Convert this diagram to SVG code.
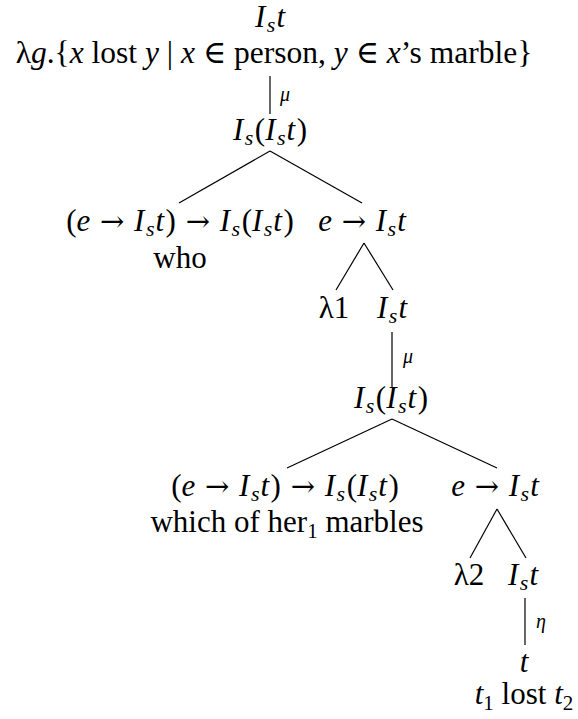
<svg xmlns="http://www.w3.org/2000/svg" width="578" height="719" viewBox="0 0 578 719">
<style>
.t{font-family:"Liberation Serif","Times New Roman",Times,"DejaVu Serif",serif;font-size:31px;fill:#000;text-anchor:middle}
.big{font-size:31.5px}
.i{font-style:italic}
.s{font-size:22px;font-style:italic}
.n{font-size:21px}
.a{font-family:"DejaVu Serif",serif;font-size:29px}
.lab{font-family:"Liberation Serif","Times New Roman",serif;font-size:20px;font-style:italic;fill:#000}
.e{stroke:#000;stroke-width:1.2;fill:none}
</style>
<rect width="578" height="719" fill="#fff"/>
<g id="connectors">
<line class="e" x1="270" y1="76" x2="270" y2="114"/>
<line class="e" x1="270" y1="151" x2="179" y2="203"/>
<line class="e" x1="270" y1="151" x2="362" y2="203"/>
<line class="e" x1="364" y1="243" x2="336" y2="290"/>
<line class="e" x1="364" y1="243" x2="393" y2="290"/>
<line class="e" x1="392" y1="332" x2="392" y2="388"/>
<line class="e" x1="392" y1="419" x2="287" y2="468"/>
<line class="e" x1="392" y1="419" x2="497" y2="468"/>
<line class="e" x1="497" y1="509" x2="470" y2="558"/>
<line class="e" x1="497" y1="509" x2="526" y2="558"/>
<line class="e" x1="525" y1="598" x2="525" y2="645"/>
<text class="lab" x="280" y="101">μ</text>
<text class="lab" x="403" y="363">μ</text>
<text class="lab" x="536" y="628">η</text>
</g>
<g id="root">
<text class="t" x="270" y="27"><tspan class="i">I</tspan><tspan class="s" dx="1.5" dy="5">s</tspan><tspan class="i" dx="1" dy="-5">t</tspan></text>
<text class="t big" x="274" y="63">λ<tspan class="i">g</tspan>.{<tspan class="i">x</tspan> lost <tspan class="i">y</tspan> | <tspan class="i">x</tspan> ∈ person, <tspan class="i">y</tspan> ∈ <tspan class="i">x</tspan>’s marble}</text>
</g>
<g id="n1">
<text class="t" x="270" y="140"><tspan class="i">I</tspan><tspan class="s" dx="1.5" dy="5">s</tspan><tspan dx="1.5" dy="-5">(</tspan><tspan class="i">I</tspan><tspan class="s" dx="1.5" dy="5">s</tspan><tspan class="i" dx="1" dy="-5">t</tspan><tspan dx="1.5">)</tspan></text>
</g>
<g id="who">
<text class="t" x="180" y="231">(<tspan class="i">e</tspan> <tspan class="a" dx="2">→</tspan> <tspan class="i" dx="2">I</tspan><tspan class="s" dx="1.5" dy="5">s</tspan><tspan class="i" dx="1" dy="-5">t</tspan><tspan dx="1.5">)</tspan> <tspan class="a" dx="2">→</tspan> <tspan class="i" dx="2">I</tspan><tspan class="s" dx="1.5" dy="5">s</tspan><tspan dx="1.5" dy="-5">(</tspan><tspan class="i">I</tspan><tspan class="s" dx="1.5" dy="5">s</tspan><tspan class="i" dx="1" dy="-5">t</tspan><tspan dx="1.5">)</tspan></text>
<text class="t" x="180" y="268">who</text>
</g>
<g id="n2">
<text class="t" x="362" y="231"><tspan class="i">e</tspan> <tspan class="a" dx="2">→</tspan> <tspan class="i" dx="2">I</tspan><tspan class="s" dx="1.5" dy="5">s</tspan><tspan class="i" dx="1" dy="-5">t</tspan></text>
</g>
<g id="lambda1">
<text class="t" x="334" y="318">λ1</text>
</g>
<g id="n3">
<text class="t" x="392" y="318"><tspan class="i">I</tspan><tspan class="s" dx="1.5" dy="5">s</tspan><tspan class="i" dx="1" dy="-5">t</tspan></text>
</g>
<g id="n4">
<text class="t" x="391" y="408"><tspan class="i">I</tspan><tspan class="s" dx="1.5" dy="5">s</tspan><tspan dx="1.5" dy="-5">(</tspan><tspan class="i">I</tspan><tspan class="s" dx="1.5" dy="5">s</tspan><tspan class="i" dx="1" dy="-5">t</tspan><tspan dx="1.5">)</tspan></text>
</g>
<g id="which">
<text class="t" x="285" y="496">(<tspan class="i">e</tspan> <tspan class="a" dx="2">→</tspan> <tspan class="i" dx="2">I</tspan><tspan class="s" dx="1.5" dy="5">s</tspan><tspan class="i" dx="1" dy="-5">t</tspan><tspan dx="1.5">)</tspan> <tspan class="a" dx="2">→</tspan> <tspan class="i" dx="2">I</tspan><tspan class="s" dx="1.5" dy="5">s</tspan><tspan dx="1.5" dy="-5">(</tspan><tspan class="i">I</tspan><tspan class="s" dx="1.5" dy="5">s</tspan><tspan class="i" dx="1" dy="-5">t</tspan><tspan dx="1.5">)</tspan></text>
<text class="t" x="287" y="532">which of her<tspan class="n" dy="6">1</tspan><tspan dy="-6"> marbles</tspan></text>
</g>
<g id="n5">
<text class="t" x="495" y="496"><tspan class="i">e</tspan> <tspan class="a" dx="2">→</tspan> <tspan class="i" dx="2">I</tspan><tspan class="s" dx="1.5" dy="5">s</tspan><tspan class="i" dx="1" dy="-5">t</tspan></text>
</g>
<g id="lambda2">
<text class="t" x="469" y="585">λ2</text>
</g>
<g id="n6">
<text class="t" x="523" y="585"><tspan class="i">I</tspan><tspan class="s" dx="1.5" dy="5">s</tspan><tspan class="i" dx="1" dy="-5">t</tspan></text>
</g>
<g id="leaf">
<text class="t" x="524" y="672"><tspan class="i">t</tspan></text>
<text class="t" x="524" y="704"><tspan class="i">t</tspan><tspan class="n" dy="6">1</tspan><tspan dy="-6"> lost </tspan><tspan class="i">t</tspan><tspan class="n" dy="6">2</tspan></text>
</g>
</svg>
